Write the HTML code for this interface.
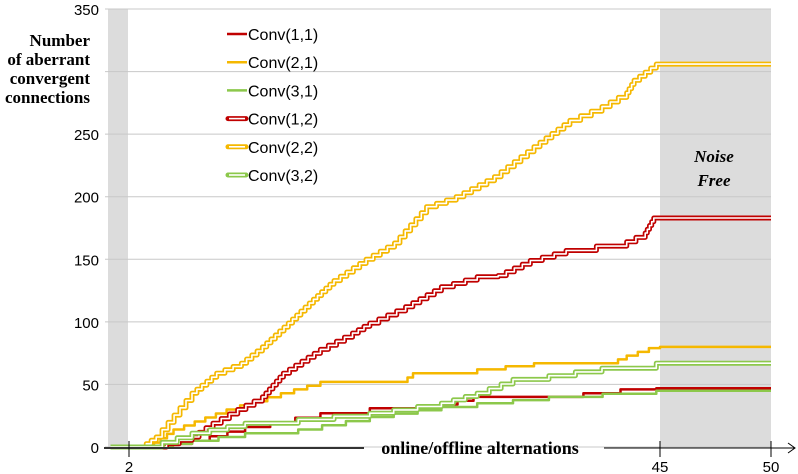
<!DOCTYPE html>
<html><head><meta charset="utf-8"><style>
body{margin:0;background:#fff}
svg{display:block}
text{font-family:"Liberation Sans",sans-serif}
.serif{font-family:"Liberation Serif",serif;font-weight:bold}
</style></head><body>
<svg id="chart" width="798" height="474" viewBox="0 0 798 474">
<g id="bg"></g><g id="grid"></g><g id="series"></g><g id="axes"></g>
<g id="legend"></g>
<g>
<rect x="0" y="28" width="96" height="76" fill="#fff"/>
<text class="serif" x="90" y="46" font-size="17" text-anchor="end">Number</text>
<text class="serif" x="90" y="65" font-size="17" text-anchor="end">of aberrant</text>
<text class="serif" x="90" y="84" font-size="17" text-anchor="end">convergent</text>
<text class="serif" x="90" y="103" font-size="17" text-anchor="end">connections</text>
</g>
<g>
<text class="serif" x="714" y="162" font-size="17" font-style="italic" text-anchor="middle">Noise</text>
<text class="serif" x="714" y="186" font-size="17" font-style="italic" text-anchor="middle">Free</text>
</g>
<text class="serif" x="480" y="454" font-size="18" text-anchor="middle">online/offline alternations</text>
</svg>
<script>
const yTicks=[0,50,100,150,200,250,300,350];
const yTickLabels=["0","50","100","150","200","250","","350"];
const xTicks=[2,45,50];
const seriesNames=["Conv(1,1)","Conv(2,1)","Conv(3,1)","Conv(1,2)","Conv(2,2)","Conv(3,2)"];
const seriesColors=["#c00000","#f5b800","#8cc84b","#c00000","#f5b800","#8cc84b"];
const seriesDouble=[false,false,false,true,true,true];
const tVals=[[0.5,4,7.1,11.4,17.5,21.5,27.3,29.9,38.8,41.8,44.7,50],
[0.5,3.5,5.6,9.9,14.3,17.5,24.1,25,30.2,34.8,40.9,42.3,44.1,45,50],
[0.5,4,7.1,11.4,15.7,21.5,27.3,30.2,36,44.7,50],
[0.5,4,7.1,8.8,10.8,12.8,14.5,17.5,20.1,21.5,24.4,27.3,30.2,31.9,34.5,37.4,42.3,43.8,44.5,50],
[0.5,3,4.2,7.1,9.1,11.1,12.8,14.9,16.6,18.6,21.2,23.5,26.1,28.5,31.6,34.8,37.7,40.3,42.3,42.9,44.7,50],
[0.5,3.5,7.1,11.4,15.7,21.5,27.3,30.2,33.1,36,40.3,44.7,50]];
const yVals=[[0,0,5,16,27,31,34,40,43,46,47,47],
[0,0,14,30,43,52,52,59,62,67,67,73,79,80,80],
[0,0,5,11,14,24,32,35,40,45,45],
[0,0,8,19,30,40,59,78,91,99,112,128,136,137,149,157,164,171,183,183],
[0,0,8,43,59,67,80,99,115,133,150,163,192,200,216,240,261,272,283,293,306,306],
[0,0,11,19,22,27,35,43,54,57,63,67,67]];
const NS="http://www.w3.org/2000/svg";
function X(t){return t<=45?129+(t-2)*(531/43):660+(t-45)*(111/5);}
function Y(v){return 447-v*(438/350);}
function mk(tag,attrs,parent){const e=document.createElementNS(NS,tag);for(const k in attrs)e.setAttribute(k,attrs[k]);parent.appendChild(e);return e;}
function stepPts(ts,vs){
 let p=[[X(ts[0]),Y(vs[0])]];
 for(let j=1;j<ts.length;j++){
  const x0=X(ts[j-1]),x1=X(ts[j]),y0=Y(vs[j-1]),y1=Y(vs[j]);
  const n=Math.max(1,Math.min(6,Math.round(Math.abs(y1-y0)/4)));
  for(let k=1;k<=n;k++){const xs=x0+(x1-x0)*k/n;const yp=y0+(y1-y0)*(k-1)/n;const yn=y0+(y1-y0)*k/n;p.push([xs,yp]);p.push([xs,yn]);}
 }
 return p.map(q=>q[0].toFixed(1)+','+q[1].toFixed(1)).join(' ');
}
const bg=document.getElementById('bg'),grid=document.getElementById('grid'),ser=document.getElementById('series'),ax=document.getElementById('axes'),lg=document.getElementById('legend');
let r=mk('rect',{x:108,y:Y(350),width:20,height:Y(0)-Y(350),fill:'#dcdcdc'},bg);

r=mk('rect',{x:660,y:Y(350),width:111,height:Y(0)-Y(350),fill:'#dcdcdc'},bg);

yTicks.forEach((v,i)=>{
 const l=mk('line',{x1:105,x2:771,y1:Y(v),y2:Y(v),stroke:'#c8c8c8','stroke-width':1},grid);
 
 const t=mk('text',{x:99,y:Y(v)+6,'font-size':15,'text-anchor':'end',fill:'#000'},grid);t.textContent=yTickLabels[i];
 
});
seriesNames.forEach((n,i)=>{
 const pts=stepPts(tVals[i],yVals[i]);
 const g=mk('g',{},ser);
 
 
 if(seriesDouble[i]){
  mk('polyline',{points:pts,fill:'none',stroke:seriesColors[i],'stroke-width':5,'stroke-linejoin':'round'},g);
  mk('polyline',{points:pts,fill:'none',stroke:'#fff','stroke-width':1.6,'stroke-linejoin':'round'},g);
 } else mk('polyline',{points:pts,fill:'none',stroke:seriesColors[i],'stroke-width':2.5,'stroke-linejoin':'round'},g);
 const ly=34+i*28.2;
 const lgEntry=mk('g',{},lg);
 
 
 if(seriesDouble[i]){
  mk('line',{x1:228,x2:246,y1:ly,y2:ly,stroke:seriesColors[i],'stroke-width':5,'stroke-linecap':'round'},lgEntry);
  mk('line',{x1:229,x2:245,y1:ly,y2:ly,stroke:'#fff','stroke-width':1.6},lgEntry);
 } else mk('line',{x1:227,x2:247,y1:ly,y2:ly,stroke:seriesColors[i],'stroke-width':2.5},lgEntry);
 const tx=mk('text',{x:248,y:ly+6,'font-size':16,fill:'#000'},lgEntry);tx.textContent=n;
});
let a=mk('line',{x1:104,x2:364,y1:448,y2:448,stroke:'#333','stroke-width':2},ax);

mk('line',{x1:604,x2:795,y1:448,y2:448,stroke:'#000','stroke-width':1},ax);
mk('polyline',{points:'788,443 795,448 788,453',fill:'none',stroke:'#000','stroke-width':1},ax);
xTicks.forEach(v=>{
 mk('line',{x1:X(v),x2:X(v),y1:441,y2:457,stroke:'#000','stroke-width':1},ax);
 const t=mk('text',{x:X(v),y:472,'font-size':15,'text-anchor':'middle'},ax);t.textContent=v;
 
});
</script>
</body></html>
